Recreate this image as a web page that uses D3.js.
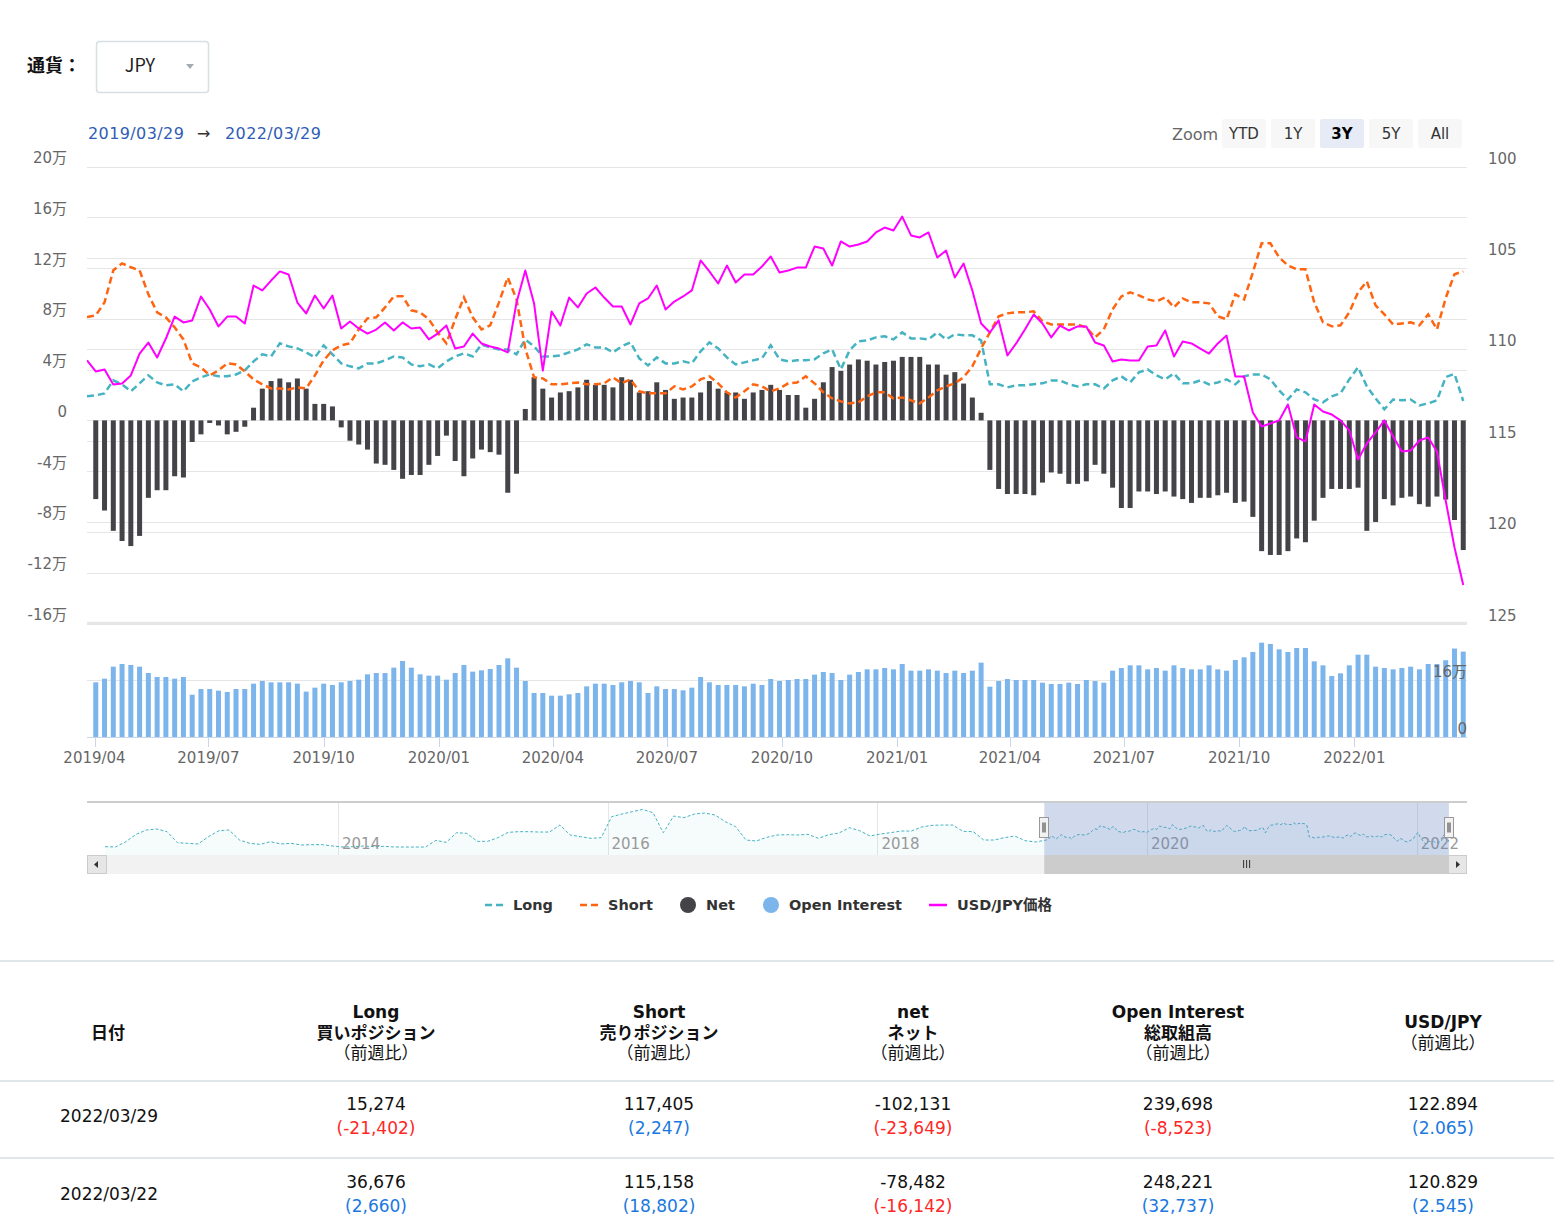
<!DOCTYPE html>
<html>
<head>
<meta charset="utf-8">
<script src="https://cdnjs.cloudflare.com/ajax/libs/d3/7.8.5/d3.min.js"></script>
<style>
body { margin: 0; background: #fff; }
svg text { font-family: "DejaVu Sans", "Noto Sans CJK JP", sans-serif; }
</style>
</head>
<body>
<svg id="chart"></svg>
<script>
const W = 1554, H = 1232;

// weekly CFTC data (Tuesdays) from 2019/04/02 to 2022/03/29
const firstDate = "2019-04-02";
const longValues = [
  19700,21300,31500,28400,22900,29200,35500,29900,27600,28400,
  22900,30700,33900,36200,34700,34700,36200,39400,46500,52000,
  50400,60700,58300,56700,53600,49600,59100,52000,44900,42600,
  41000,44900,44900,47300,50400,49600,44100,42600,44100,41000,
  46500,50400,52800,50400,59900,57500,55900,55900,52000,63800,
  58300,50400,50400,51200,53600,55900,59900,57500,57500,53600,
  58300,61500,48900,43300,49600,44900,44900,46500,44900,54400,
  61500,56700,49600,44100,45700,47300,48900,59100,48100,46500,
  47300,47300,48100,52800,55900,40200,55200,62300,63000,65400,
  66200,63800,69300,64600,64600,63800,69300,63800,67800,67000,
  67000,63000,28400,28400,26000,27600,27600,28400,29200,31500,
  31500,28400,26800,28400,28400,25200,31500,34700,29900,37800,
  40200,35500,32300,37000,29200,29200,31500,28400,29900,32300,
  28400,34700,36200,36200,32300,23600,16500,24400,22100,16500,
  14200,18900,21300,32300,41800,26800,17300,8700,16500,15800,
  16500,11800,13400,15800,34016,36676,15274
];
const shortValues = [
  82700,93000,118200,123700,120600,118200,99300,85100,81200,73300,
  63800,44900,41800,35500,39400,44900,44100,38600,32300,28400,
  25200,25200,24400,26000,25200,35500,47300,55200,59100,60700,
  71700,80400,81200,89000,97700,97700,86700,85100,79600,69300,
  60700,79600,96900,81200,71700,74900,93000,112700,95300,56700,
  33900,33100,28400,28400,29200,29900,28400,28400,29200,33900,
  29200,32300,22900,21300,21300,21300,26800,24400,26800,32300,
  34700,29200,22100,18100,22900,28400,26800,22900,25200,29200,
  29900,34700,29200,22100,17300,15000,13400,14200,18900,22100,
  22100,17300,18100,15800,13400,18100,23600,26800,29200,33900,
  42600,56700,69300,82000,84300,85100,85100,85900,78000,75600,
  75600,75600,75600,73300,65400,71700,87500,97700,100900,98500,
  95300,93800,96900,89000,96100,93000,93000,92200,82000,79600,
  99300,95300,116600,139500,139500,128400,122100,119000,119000,93000,
  77200,74100,74900,85100,100900,109500,90600,83500,75600,76400,
  77200,74900,83500,71700,96356,115158,117405
];
const netValues = [
  -62000,-71000,-87000,-95000,-99000,-91000,-61000,-55000,-55000,-44000,
  -45000,-17000,-11000,-2000,-4000,-11000,-9000,-5000,10000,25000,
  31000,33000,30000,33000,25000,13000,13000,11000,-5500,-16000,
  -19000,-23000,-34000,-35000,-39000,-46000,-43000,-43000,-35000,-28000,
  -12000,-32000,-44000,-30000,-23000,-25000,-27000,-57000,-42000,9000,
  34000,25000,18000,22000,23000,26000,32000,28000,28000,26000,
  34000,32000,22000,23000,30000,24000,17000,18000,18000,22000,
  31000,25000,22000,22000,17000,22000,24000,28000,24000,20000,
  20000,10000,17000,30000,42000,39000,44000,48000,47000,44000,
  46000,47000,50000,50000,50000,44000,44000,36000,38000,29000,
  18000,6000,-39000,-54000,-58000,-58000,-58000,-59000,-49000,-41000,
  -42000,-50000,-50000,-48000,-35000,-42000,-53000,-69000,-69000,-56000,
  -56000,-58000,-56000,-60000,-62000,-65000,-61000,-61000,-59000,-57000,
  -65000,-64000,-76000,-103000,-106000,-106000,-103000,-93000,-96000,-79000,
  -61000,-54000,-54000,-54000,-53000,-87000,-80000,-62000,-67000,-61000,
  -60000,-66000,-68000,-60000,-62340,-78482,-102131
];
const oiValues = [
  153500,163700,197400,204900,202100,197400,179600,168400,168400,163700,
  168400,118800,134700,134700,130100,126300,134700,134700,149700,157200,
  153500,153500,153500,149700,127300,138500,149700,146000,153500,157200,
  160900,175900,179600,179600,194600,213300,194600,175900,172200,172200,
  160900,179600,202100,183400,187100,190900,202100,220800,194600,157200,
  123500,123500,116000,116000,119800,123500,142200,149700,149700,146000,
  153500,157200,153500,123500,142200,134700,134700,131000,138500,168400,
  153500,146000,146000,146000,142200,149700,146000,162800,157200,160000,
  162800,162800,175000,182500,179600,160000,175000,182500,189900,189900,
  193700,189900,204900,186200,186200,189900,186200,179600,186200,179600,
  186200,208700,141300,157200,162800,160000,160000,160000,152500,148800,
  148800,152500,148800,160000,157200,152500,186200,193700,201200,201200,
  189900,193700,186200,201200,193700,189900,189900,201200,189900,186200,
  216100,223600,238600,264800,261100,246100,238600,249800,249800,212400,
  201200,171200,178700,201200,231100,231100,197400,193700,189900,193700,
  197400,189900,204900,204900,215484,248221,239698
];
const usdValues = [
  111.21,111.10,111.93,111.87,111.43,110.23,109.63,110.45,109.41,108.21,
  108.53,108.42,107.11,107.82,108.75,108.21,108.21,108.59,106.51,106.78,
  106.24,105.74,105.91,107.44,108.04,107.06,107.77,107.06,108.86,108.48,
  108.86,109.14,108.92,108.53,108.97,108.53,108.86,108.81,109.46,109.14,
  108.70,109.96,109.85,109.14,109.68,109.85,109.96,110.17,107.44,105.69,
  107.49,111.16,107.93,108.70,107.17,107.71,106.95,106.62,107.17,107.66,
  107.66,108.64,107.49,107.22,106.51,107.82,107.39,107.11,106.78,105.14,
  105.74,106.40,105.42,106.35,105.91,105.91,105.47,104.92,105.80,105.69,
  105.53,105.53,104.38,104.49,105.42,104.10,104.38,104.27,104.10,103.61,
  103.34,103.50,102.74,103.77,103.88,103.61,104.98,104.60,106.07,105.31,
  106.78,108.59,109.08,108.42,110.34,109.68,108.92,108.10,108.59,109.35,
  108.70,108.97,108.75,108.75,109.63,109.79,110.67,110.56,110.61,110.61,
  109.85,109.79,108.97,110.39,109.57,109.68,109.96,110.23,109.68,109.25,
  111.49,111.49,113.46,114.22,114.06,113.89,113.02,114.82,115.04,113.02,
  113.40,113.57,113.89,114.44,116.03,115.15,114.55,113.89,114.77,115.59,
  115.54,114.99,114.82,115.59,118.284,120.829,122.894
];
// last week before the zoomed range (2019/03/26), only its line ends show at the left edge
const leadLong = 19000, leadShort = 81500, leadUsd = 110.6;

// navigator: Long positions every 4 weeks from 2012/04/10 up to the zoomed range
const navFirstDate = "2012-04-10";
const navLongValues = [
  1000,0,15200,36200,48600,51400,43800,12400,10500,8600,
  29500,46600,48600,20000,10500,7600,15200,8600,10500,5700,
  6700,6700,2900,0,1000,2900,1000,1900,0,0,
  0,0,19000,13300,40900,39000,16200,16200,26700,41900,
  43800,43800,42800,42800,62800,34300,29500,24800,26700,86600,
  94200,100900,107600,98100,40900,88500,83800,94200,97100,91400,
  72400,58100,20000,17100,27600,34300,35200,34300,36200,24800,
  35200,40000,55200,46600,31400,37100,40900,45700,45700,57100,
  61900,62800,62800,44700,43800,20000,20000,26700,31400,18100,
  14300
];
const navYears = ["2014", "2016", "2018", "2020", "2022"];

const leftTicks = [-160000,-120000,-80000,-40000,0,40000,80000,120000,160000,200000];
const rightTicks = [100, 105, 110, 115, 120, 125];
const oiTicks = [0, 160000];
const zoomButtons = ["YTD", "1Y", "3Y", "5Y", "All"];
const selectedZoom = "3Y";
const rangeFrom = "2019/03/29", rangeTo = "2022/03/29";

const legendItems = [
  {name: "Long", type: "dash", color: "#45b3c2"},
  {name: "Short", type: "dash", color: "#ff6410"},
  {name: "Net", type: "dot", color: "#434348"},
  {name: "Open Interest", type: "dot", color: "#7cb5ec"},
  {name: "USD/JPY価格", type: "line", color: "#ff00ff"}
];

// table
const headCols = [
  ["日付"],
  ["Long", "買いポジション", "（前週比）"],
  ["Short", "売りポジション", "（前週比）"],
  ["net", "ネット", "（前週比）"],
  ["Open Interest", "総取組高", "（前週比）"],
  ["USD/JPY", "（前週比）"]
];
const tableDates = ["2022/03/29", "2022/03/22"];
const tableValues = [
  ["15,274", "117,405", "-102,131", "239,698", "122.894"],
  ["36,676", "115,158", "-78,482", "248,221", "120.829"]
];
const tableChanges = [
  ["-21,402", "2,247", "-23,649", "-8,523", "2.065"],
  ["2,660", "18,802", "-16,142", "32,737", "2.545"]
];

const svg = d3.select("#chart").attr("width", W).attr("height", H)
  .style("width", W + "px").style("height", H + "px");

const parse = d3.utcParse("%Y-%m-%d");
const dates = longValues.map((d, i) => d3.utcDay.offset(parse(firstDate), i * 7));
const leadDate = d3.utcDay.offset(parse(firstDate), -7);
const navDates = navLongValues.map((d, i) => d3.utcDay.offset(parse(navFirstDate), i * 28));

// scales
const x = d3.scaleUtc()
  .domain([Date.UTC(2019, 2, 26), Date.UTC(2022, 3, 1)])
  .range([87, 1467]);
const yL = d3.scaleLinear().domain([-160000, 200000]).range([623.5, 166.5]);
const yR = d3.scaleLinear().domain([100, 125]).range([166.5, 623.5]);
const yOI = d3.scaleLinear().domain([0, 160000]).range([737, 680]);

// ---------- header controls ----------
svg.append("text").attr("x", 27).attr("y", 72)
  .style("font-family", "Noto Sans CJK JP").attr("font-weight", "bold")
  .attr("font-size", 18).attr("fill", "#111").text("通貨：");
svg.append("rect").attr("x", 96.5).attr("y", 41.5).attr("width", 112).attr("height", 51)
  .attr("rx", 3).attr("fill", "#fff").attr("stroke", "#d6e0e3").attr("stroke-width", 1.5);
svg.append("text").attr("x", 140).attr("y", 72).attr("text-anchor", "middle")
  .style("font-family", "Noto Sans CJK JP").attr("font-size", 18).attr("fill", "#222").text("JPY");
svg.append("path").attr("d", "M186,64 L194,64 L190,69 Z").attr("fill", "#a3acb3");

const rangeG = svg.append("g").attr("font-size", 16);
rangeG.append("text").attr("x", 88).attr("y", 139).attr("fill", "#2f5db5")
  .attr("letter-spacing", 0.4).text(rangeFrom);
rangeG.append("text").attr("x", 197).attr("y", 139).attr("fill", "#333").text("→");
rangeG.append("text").attr("x", 225).attr("y", 139).attr("fill", "#2f5db5")
  .attr("letter-spacing", 0.4).text(rangeTo);

svg.append("text").attr("x", 1172).attr("y", 140).attr("font-size", 16)
  .attr("fill", "#666").text("Zoom");
const btn = svg.selectAll(".zbtn").data(zoomButtons).enter().append("g")
  .attr("transform", (d, i) => `translate(${1222 + i * 49},119)`);
btn.append("rect").attr("width", 44).attr("height", 29).attr("rx", 2)
  .attr("fill", d => d === selectedZoom ? "#e6ebf5" : "#f7f7f7");
btn.append("text").attr("x", 22).attr("y", 20).attr("text-anchor", "middle")
  .attr("font-size", 15).attr("fill", d => d === selectedZoom ? "#000" : "#333")
  .attr("font-weight", d => d === selectedZoom ? "bold" : "normal").text(d => d);

// ---------- grid & axes ----------
const grid = svg.append("g").attr("stroke", "#e6e6e6").attr("stroke-width", 1);
grid.selectAll(".gl").data(leftTicks).enter().append("line")
  .attr("x1", 87).attr("x2", 1467)
  .attr("y1", d => Math.round(yL(d)) + 0.5).attr("y2", d => Math.round(yL(d)) + 0.5);
grid.selectAll(".gr").data(rightTicks).enter().append("line")
  .attr("x1", 87).attr("x2", 1467)
  .attr("y1", d => Math.round(yR(d)) + 0.5).attr("y2", d => Math.round(yR(d)) + 0.5);
svg.append("line").attr("x1", 87).attr("x2", 1467).attr("y1", 623).attr("y2", 623)
  .attr("stroke", "#e6e6e6").attr("stroke-width", 2.5);
grid.append("line").attr("x1", 87).attr("x2", 1467)
  .attr("y1", Math.round(yOI(160000)) + 0.5).attr("y2", Math.round(yOI(160000)) + 0.5);

const axisText = svg.append("g").attr("font-size", 15).attr("fill", "#666");
axisText.selectAll(".lt").data(leftTicks).enter().append("text")
  .attr("x", 67).attr("y", d => yL(d) - 3.5).attr("text-anchor", "end")
  .text(d => d === 0 ? "0" : (d / 10000) + "万");
axisText.selectAll(".rt").data(rightTicks).enter().append("text")
  .attr("x", 1488).attr("y", d => yR(d) - 3).text(d => d);

// x axis
const xTicks = d3.utcMonth.every(3).range(new Date(Date.UTC(2019, 3, 1)), new Date(Date.UTC(2022, 2, 1)));
svg.append("line").attr("x1", 87).attr("x2", 1467).attr("y1", 737.5).attr("y2", 737.5)
  .attr("stroke", "#ccd6eb");
svg.selectAll(".xt").data(xTicks).enter().append("line")
  .attr("x1", d => Math.round(x(d)) + 0.5).attr("x2", d => Math.round(x(d)) + 0.5)
  .attr("y1", 737).attr("y2", 747).attr("stroke", "#ccd6eb");
axisText.selectAll(".xl").data(xTicks).enter().append("text")
  .attr("x", d => x(d)).attr("y", 763).attr("text-anchor", "middle")
  .text(d => d3.utcFormat("%Y/%m")(d));

// ---------- series ----------
svg.append("clipPath").attr("id", "plotClip").append("rect")
  .attr("x", 87).attr("y", 160).attr("width", 1380).attr("height", 470);
const plot = svg.append("g").attr("clip-path", "url(#plotClip)");

const barW = 5;
plot.selectAll(".net").data(netValues).enter().append("rect")
  .attr("x", (d, i) => x(dates[i]) - barW / 2).attr("width", barW)
  .attr("y", d => yL(Math.max(0, d))).attr("height", d => Math.abs(yL(d) - yL(0)))
  .attr("fill", "#434348");

svg.selectAll(".oi").data(oiValues).enter().append("rect")
  .attr("x", (d, i) => x(dates[i]) - barW / 2).attr("width", barW)
  .attr("y", d => yOI(d)).attr("height", d => yOI(0) - yOI(d))
  .attr("fill", "#7cb5ec");

// open interest axis labels sit on top of the bars
axisText.raise();
axisText.selectAll(".ot").data(oiTicks).enter().append("text")
  .attr("x", 1467).attr("y", d => yOI(d) - 3).attr("text-anchor", "end")
  .text(d => d === 0 ? "0" : (d / 10000) + "万");

const lineDates = [leadDate].concat(dates);
const lineL = d3.line().x((d, i) => x(lineDates[i])).y(d => yL(d));
plot.append("path").datum([leadLong].concat(longValues)).attr("d", lineL).attr("fill", "none")
  .attr("stroke", "#45b3c2").attr("stroke-width", 2.5).attr("stroke-dasharray", "7,4");
plot.append("path").datum([leadShort].concat(shortValues)).attr("d", lineL).attr("fill", "none")
  .attr("stroke", "#ff6410").attr("stroke-width", 2.5).attr("stroke-dasharray", "7,4");
const lineR = d3.line().x((d, i) => x(lineDates[i])).y(d => yR(d));
plot.append("path").datum([leadUsd].concat(usdValues)).attr("d", lineR).attr("fill", "none")
  .attr("stroke", "#ff00ff").attr("stroke-width", 2).attr("stroke-linejoin", "round");

// ---------- navigator ----------
const navX = d3.scaleUtc()
  .domain([Date.UTC(2012, 1, 21), Date.UTC(2022, 4, 17)]).range([87, 1467]);
const navY = d3.scaleLinear().domain([-20000, 120000]).range([854, 805]);
const navAllDates = navDates.concat(dates);
const navAllValues = navLongValues.concat(longValues);

svg.selectAll(".ny").data(navYears).enter().append("line")
  .attr("x1", d => Math.round(navX(parse(d + "-01-01"))) + 0.5)
  .attr("x2", d => Math.round(navX(parse(d + "-01-01"))) + 0.5)
  .attr("y1", 802).attr("y2", 855).attr("stroke", "#e6e6e6");
const navArea = d3.area().x((d, i) => navX(navAllDates[i])).y0(855).y1(d => navY(d));
svg.append("path").datum(navAllValues).attr("d", navArea).attr("fill", "#45b3c2").attr("fill-opacity", 0.05);
const navLine = d3.line().x((d, i) => navX(navAllDates[i])).y(d => navY(d));
svg.append("path").datum(navAllValues).attr("d", navLine).attr("fill", "none")
  .attr("stroke", "#45b3c2").attr("stroke-width", 1).attr("stroke-dasharray", "3,2");
svg.selectAll(".nyl").data(navYears).enter().append("text")
  .attr("x", d => navX(parse(d + "-01-01")) + 4).attr("y", 849)
  .attr("font-size", 15).attr("fill", "#999").text(d => d);

const selFrom = navX(parse("2019-03-29")), selTo = navX(parse("2022-03-29"));
svg.append("rect").attr("x", selFrom).attr("y", 802).attr("width", selTo - selFrom).attr("height", 53)
  .attr("fill", "rgba(102,133,194,0.3)");
svg.append("line").attr("x1", 87).attr("x2", 1467).attr("y1", 802).attr("y2", 802)
  .attr("stroke", "#cccccc").attr("stroke-width", 2);
[selFrom, selTo].forEach(hx => {
  const g = svg.append("g").attr("transform", `translate(${Math.round(hx) - 4.5},817.5)`);
  g.append("rect").attr("width", 9).attr("height", 20).attr("fill", "#f2f2f2").attr("stroke", "#999");
  g.append("path").attr("d", "M3.5,5 V15 M5.5,5 V15").attr("stroke", "#333").attr("stroke-width", 1);
});

// scrollbar
svg.append("rect").attr("x", 87).attr("y", 855).attr("width", 1380).attr("height", 19).attr("fill", "#f2f2f2");
svg.append("rect").attr("x", selFrom).attr("y", 855).attr("width", selTo - selFrom).attr("height", 19).attr("fill", "#cccccc");
const gripX = (selFrom + selTo) / 2;
svg.append("path").attr("d", `M${gripX - 3},860 V868 M${gripX},860 V868 M${gripX + 3},860 V868`)
  .attr("stroke", "#333");
svg.append("rect").attr("x", 87.5).attr("y", 855.5).attr("width", 19).attr("height", 18)
  .attr("fill", "#e6e6e6").attr("stroke", "#cccccc");
svg.append("path").attr("d", "M98,861 L94,864.5 L98,868 Z").attr("fill", "#333");
svg.append("rect").attr("x", 1448.5).attr("y", 855.5).attr("width", 18).attr("height", 18)
  .attr("fill", "#e6e6e6").attr("stroke", "#cccccc");
svg.append("path").attr("d", "M1456,861 L1460,864.5 L1456,868 Z").attr("fill", "#333");

// ---------- legend ----------
const legendX = [485, 580, 680, 763, 929];
const leg = svg.selectAll(".leg").data(legendItems).enter().append("g")
  .attr("transform", (d, i) => `translate(${legendX[i]},905)`);
leg.filter(d => d.type === "dash").append("line").attr("x1", 0).attr("x2", 18)
  .attr("stroke", d => d.color).attr("stroke-width", 2.5).attr("stroke-dasharray", "7,4");
leg.filter(d => d.type === "line").append("line").attr("x1", 0).attr("x2", 18)
  .attr("stroke", d => d.color).attr("stroke-width", 2.5);
leg.filter(d => d.type === "dot").append("circle").attr("cx", 8).attr("r", 8).attr("fill", d => d.color);
leg.append("text").attr("x", d => d.type === "dot" ? 26 : 28).attr("y", 5)
  .attr("font-size", 14.5).attr("font-weight", "bold").attr("fill", "#333").text(d => d.name);

// ---------- table ----------
const colX = [108, 376, 659, 913, 1178, 1443];
const tbl = svg.append("g").style("font-family", "Noto Sans CJK JP");
[961, 1081, 1158].forEach(ly => {
  tbl.append("line").attr("x1", 0).attr("x2", W).attr("y1", ly).attr("y2", ly)
    .attr("stroke", "#dfe7ea").attr("stroke-width", 2);
});
headCols.forEach((lines, c) => {
  const n = lines.length;
  const y0 = n === 1 ? 1039 : n === 2 ? 1028 : 1018;
  lines.forEach((t, k) => {
    const paren = t.startsWith("（");
    tbl.append("text").attr("x", colX[c]).attr("y", y0 + k * 20.5)
      .attr("text-anchor", "middle").attr("font-size", 17)
      .attr("font-weight", paren ? "normal" : "bold").attr("fill", "#111").text(t);
  });
});
const rowY = [1104, 1182];
tableDates.forEach((dt, r) => {
  tbl.append("text").attr("x", 109).attr("y", rowY[r] + 18).attr("text-anchor", "middle")
    .attr("font-size", 17).attr("fill", "#111").text(dt);
  tableValues[r].forEach((v, c) => {
    tbl.append("text").attr("x", colX[c + 1]).attr("y", rowY[r] + 6).attr("text-anchor", "middle")
      .attr("font-size", 17).attr("fill", "#111").text(v);
    const ch = tableChanges[r][c];
    tbl.append("text").attr("x", colX[c + 1]).attr("y", rowY[r] + 30).attr("text-anchor", "middle")
      .attr("font-size", 17).attr("fill", ch.startsWith("-") ? "#ff2626" : "#1a78e0")
      .text("(" + ch + ")");
  });
});
</script>
</body>
</html>
